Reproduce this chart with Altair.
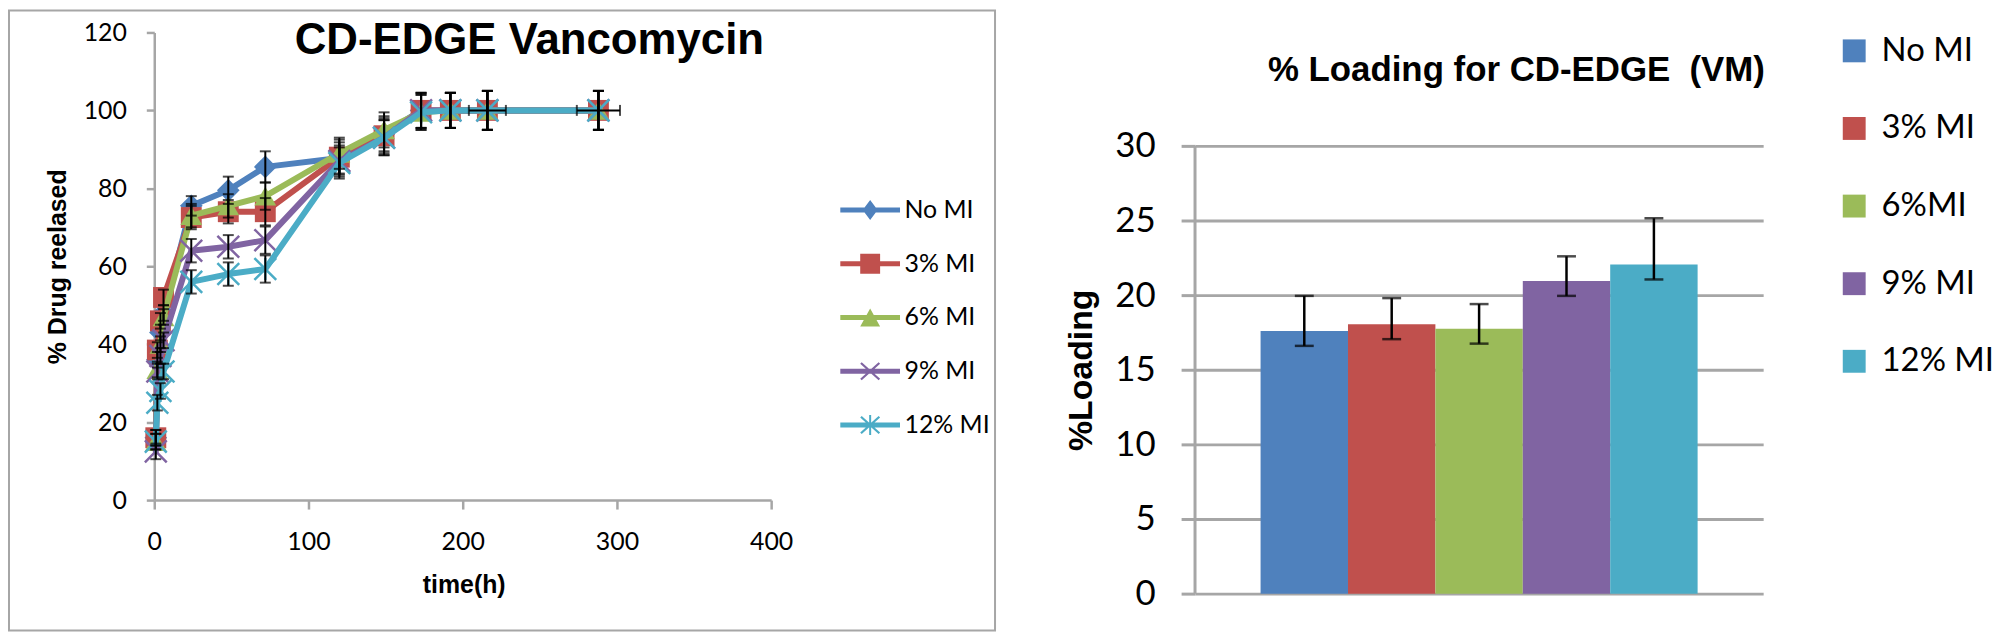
import altair as alt
import pandas as pd

# ---------------- data: release profile (left) ----------------
TIME_H = [1, 2, 4, 6, 24, 48, 72, 120, 149, 173, 192, 216, 288]
NO_MI = [16, 36, 43, 48, 75.5, 79.5, 85.5, 87.8, 94, 100, 100, 100, 100]
MI_3 = [16, 38.5, 46, 52, 72.5, 74, 74, 88, 93.5, 100, 100, 100, 100]
MI_6 = [15, 33.5, 40, 47, 73, 75.5, 78, 89, 95, 99.5, 100, 100, 100]
MI_9 = [12.5, 33, 37, 41, 64, 65, 66.7, 87, 93, 100, 100, 100, 100]
MI_12 = [15, 25, 28, 33, 56, 58, 59.3, 86.5, 93, 99.5, 100, 100, 100]
ERR_NO = [2, 2, 2, 2, 2.5, 3.5, 4, 4, 4.5, 4.5, 4.5, 5, 5]
ERR_3 = [2, 2, 2, 2, 3, 3, 3.5, 4.5, 4.5, 4.5, 4.5, 5, 5]
ERR_6 = [2, 2, 2, 2, 3, 3, 3.5, 4, 4.5, 4.5, 4.5, 5, 5]
ERR_9 = [2, 2, 2, 2, 3, 3, 3.5, 4, 4.5, 4.5, 4.5, 5, 5]
ERR_12 = [2, 2, 2, 2, 3, 3, 3.5, 4, 4.5, 4.5, 4.5, 5, 5]
XERR_3 = [0, 0, 0, 0, 0, 0, 0, 0, 0, 0, 0, 12, 14]
XERR_0 = [0] * 13

LEFT_LABELS = ["No MI", "3% MI", "6% MI", "9% MI", "12% MI"]
COLORS = ["#4F81BD", "#C0504D", "#9BBB59", "#8064A2", "#4BACC6"]
TITLES = ["CD-EDGE Vancomycin", "% Loading for CD-EDGE \u00a0(VM)"]

# ---------------- data: loading (right) ----------------
RIGHT_LABELS = ["No MI", "3% MI", "6%MI", "9% MI", "12% MI"]
LOADING = [17.6, 18.05, 17.75, 20.95, 22.05]
LOAD_LO = [16.6, 17.05, 16.75, 19.95, 21.05]
LOAD_HI = [19.95, 19.8, 19.4, 22.6, 25.15]

# ---------------- marker shapes ----------------
PT_X = "M-1,-1L1,1M1,-1L-1,1"
PT_AST = "M-1,-1L1,1M1,-1L-1,1M0,-1L0,1"
POINT_SHAPES = ["diamond", "square", "triangle-up", PT_X, PT_AST]
POINT_SIZES = [520, 441, 480, 480, 480]
POINT_FILLED = [True, True, True, False, False]

BAR = "M-3,-0.25H3V0.25H-3Z"
LEG_PATHS = [
    BAR + "M0,-1L0.75,0L0,1L-0.75,0Z",
    BAR + "M-1,-1H1V1H-1Z",
    BAR + "M0,-0.9L1,0.9H-1Z",
    BAR + "M-1,-0.75L-0.85,-0.9L1,0.75L0.85,0.9ZM0.85,-0.9L1,-0.75L-0.85,0.9L-1,0.75Z",
    BAR + "M-1,-0.75L-0.85,-0.9L1,0.75L0.85,0.9ZM0.85,-0.9L1,-0.75L-0.85,0.9L-1,0.75ZM-0.1,-1H0.1V1H-0.1Z",
]

rows = []
for name, vals, errs, xerrs in zip(
    LEFT_LABELS,
    [NO_MI, MI_3, MI_6, MI_9, MI_12],
    [ERR_NO, ERR_3, ERR_6, ERR_9, ERR_12],
    [XERR_0, XERR_3, XERR_0, XERR_0, XERR_0],
):
    for t, v, e, xe in zip(TIME_H, vals, errs, xerrs):
        rows.append(dict(series=name, t=t, v=v, lo=v - e, hi=v + e,
                         xe=xe, xlo=t - xe, xhi=t + xe))
ldf = pd.DataFrame(rows)
legdf = pd.DataFrame({"series": LEFT_LABELS})
tdf = pd.DataFrame({"title": TITLES})

GRAY = "#A6A6A6"
TFONT = "Liberation Sans"

x_axis = alt.Axis(values=[0, 100, 200, 300, 400], grid=False, domainColor=GRAY, domainWidth=2.5,
                  tickColor=GRAY, tickWidth=2.5, tickSize=9, labelFontSize=25, labelPadding=21,
                  labelFlush=False, labelOverlap=False,
                  labelColor="black", labelFont="Lato", title="time(h)", titleFontSize=25,
                  titleFontWeight="bold", titleFont=TFONT, titleX=311, titleY=93,
                  titleBaseline="alphabetic", titleColor="black")
y_axis = alt.Axis(values=[0, 20, 40, 60, 80, 100, 120], grid=False, domainColor=GRAY, domainWidth=2.5,
                  tickColor=GRAY, tickWidth=2.5, tickSize=8, labelFontSize=25, labelPadding=20,
                  labelFlush=False, labelOverlap=False,
                  labelColor="black", labelFont="Lato", title="% Drug reelased", titleFontSize=25,
                  titleFontWeight="bold", titleFont=TFONT, titleX=-89, titleY=235,
                  titleBaseline="alphabetic", titleAlign="center", titleAngle=-90, titleColor="black")
XS = alt.Scale(domain=[0, 400])
YS = alt.Scale(domain=[0, 120])


def xq(f):
    return alt.X(f, type="quantitative", scale=XS, axis=x_axis)


def yq(f):
    return alt.Y(f, type="quantitative", scale=YS, axis=y_axis)


base = alt.Chart(ldf)

frame = alt.Chart(tdf.head(1)).mark_rect(fillOpacity=0, stroke=GRAY, strokeWidth=2).encode(
    x=alt.value(-146), x2=alt.value(845), y=alt.value(-22), y2=alt.value(601))

series_layers = []
for name, shp, sz, fl, col in zip(LEFT_LABELS, POINT_SHAPES, POINT_SIZES, POINT_FILLED, COLORS):
    sb = base.transform_filter(alt.datum.series == name)
    series_layers.append(
        sb.mark_line(strokeWidth=6, color=col, strokeJoin="round", strokeCap="round")
        .encode(x=xq("t"), y=yq("v"))
    )
    series_layers.append(
        sb.mark_point(shape=shp, size=sz, filled=fl, color=col, opacity=1, strokeWidth=2.5)
        .encode(x=xq("t"), y=yq("v"))
    )

err_rule = base.mark_rule(color="black", strokeWidth=2).encode(x=xq("t"), y=yq("lo"), y2="hi:Q")
cap_lo = base.mark_tick(color="black", orient="horizontal", size=11, thickness=2).encode(
    x=xq("t"), y=yq("lo"))
cap_hi = base.mark_tick(color="black", orient="horizontal", size=11, thickness=2).encode(
    x=xq("t"), y=yq("hi"))
xbase = base.transform_filter(alt.datum.xe > 0)
xerr_rule = xbase.mark_rule(color="black", strokeWidth=2).encode(x=xq("xlo"), x2="xhi:Q", y=yq("v"))
xcap_lo = xbase.mark_tick(color="black", orient="vertical", size=11, thickness=2).encode(
    x=xq("xlo"), y=yq("v"))
xcap_hi = xbase.mark_tick(color="black", orient="vertical", size=11, thickness=2).encode(
    x=xq("xhi"), y=yq("v"))

left_title = alt.Chart(tdf.head(1)).mark_text(
    font=TFONT, fontSize=44, fontWeight="bold", align="center", baseline="alphabetic", color="black"
).encode(text="title:N", x=alt.value(377), y=alt.value(22))

LEG_LEFT = alt.Legend(title=None, orient="none", legendX=707, legendY=166,
                      symbolSize=400, symbolStrokeWidth=0, symbolOpacity=1,
                      labelFontSize=25, labelFont="Lato", labelColor="black",
                      labelOffset=22, rowPadding=28, padding=0, symbolOffset=0)
legend_layer = alt.Chart(legdf).mark_point(filled=True, opacity=0).encode(
    x=alt.value(0), y=alt.value(0),
    color=alt.Color("series:N", scale=alt.Scale(domain=LEFT_LABELS, range=COLORS), legend=LEG_LEFT),
    shape=alt.Shape("series:N", scale=alt.Scale(domain=LEFT_LABELS, range=LEG_PATHS), legend=LEG_LEFT),
)

left = alt.layer(frame, *series_layers, err_rule, cap_lo, cap_hi,
                 xerr_rule, xcap_lo, xcap_hi, left_title, legend_layer).properties(width=620, height=470)

# ---------------- right chart ----------------
rdf = pd.DataFrame({"series": RIGHT_LABELS, "load": LOADING, "lo": LOAD_LO, "hi": LOAD_HI})
rbase = alt.Chart(rdf)
RX = alt.X("series:N", sort=RIGHT_LABELS, scale=alt.Scale(paddingInner=0, paddingOuter=0.75), axis=None)
ry_axis = alt.Axis(values=[0, 5, 10, 15, 20, 25, 30], grid=True, gridColor=GRAY, gridWidth=3,
                   domain=False, tickColor=GRAY, tickWidth=3, tickSize=14,
                   labelFontSize=35, labelPadding=26, labelColor="black", labelFont="Lato",
                   labelFlush=False, labelOverlap=False,
                   title="%Loading", titleFontSize=34, titleFontWeight="bold", titleFont=TFONT,
                   titleX=-104, titleY=339, titleBaseline="alphabetic", titleAlign="center",
                   titleAngle=-90, titleColor="black")
RYS = alt.Scale(domain=[0, 37.6], nice=False, zero=True)


def ry(f):
    return alt.Y(f, type="quantitative", scale=RYS, axis=ry_axis)


rframe = alt.Chart(tdf.head(1)).mark_rect(fillOpacity=0, strokeOpacity=0).encode(
    x=alt.value(-186), x2=alt.value(775), y=alt.value(-22), y2=alt.value(595))

axis_line = alt.Chart(tdf.head(1)).mark_rule(color=GRAY, strokeWidth=3).encode(
    x=alt.value(0), y=alt.Y(datum=0, scale=RYS, axis=ry_axis), y2=alt.Y2(datum=30))

bars = rbase.mark_bar().encode(
    x=RX,
    y=ry("load"),
    color=alt.Color("series:N", scale=alt.Scale(domain=RIGHT_LABELS, range=COLORS),
                    legend=alt.Legend(title=None, orient="none", legendX=646, legendY=2,
                                      symbolType="square", symbolSize=529, symbolStrokeWidth=0,
                                      labelFontSize=33, labelFont="Lato", labelColor="black",
                                      labelOffset=11, rowPadding=44, padding=0)),
)
rerr = rbase.mark_rule(color="black", strokeWidth=2.5).encode(x=RX, y=ry("lo"), y2="hi:Q")
rcap_lo = rbase.mark_tick(color="black", orient="horizontal", size=19, thickness=2.5).encode(
    x=RX, y=ry("lo"))
rcap_hi = rbase.mark_tick(color="black", orient="horizontal", size=19, thickness=2.5).encode(
    x=RX, y=ry("hi"))
right_title = alt.Chart(tdf.tail(1)).mark_text(
    font=TFONT, fontSize=35, fontWeight="bold", align="center", baseline="alphabetic", color="black"
).encode(text="title:N", x=alt.value(323), y=alt.value(49))

right = alt.layer(rframe, axis_line, bars, rerr, rcap_lo, rcap_hi, right_title).properties(
    width=571, height=564)

chart = (
    alt.hconcat(left, right, spacing=14)
    .resolve_scale(color="independent", shape="independent")
    .resolve_legend(color="independent", shape="independent")
    .properties(padding=0)
    .configure(font="Lato")
    .configure_view(stroke=None)
)

chart.save("out.html", embed_options={"renderer": "svg", "actions": False})
